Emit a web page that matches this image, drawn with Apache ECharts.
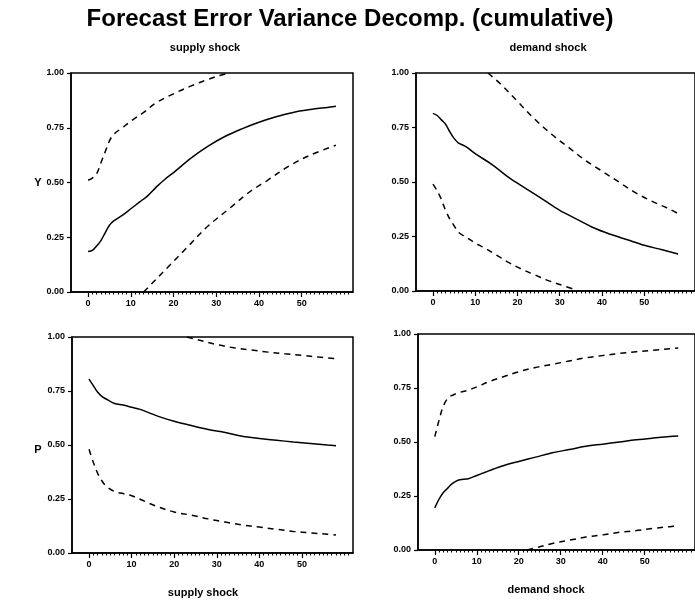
<!DOCTYPE html>
<html>
<head>
<meta charset="utf-8">
<script src="https://cdn.jsdelivr.net/npm/echarts@6/dist/echarts.min.js"></script>
<style>
html,body{margin:0;padding:0;background:#fff;}
#c{width:695px;height:603px;}
</style>
</head>
<body>
<div id="c"></div>
<script>
// ---- data (horizon, share) ----
const titleText = "Forecast Error Variance Decomp. (cumulative)";
const colTitles = ["supply shock", "demand shock"];
const rowTitles = ["Y", "P"];
const xTicks = [0, 10, 20, 30, 40, 50];
const yTicks = [0, 0.25, 0.5, 0.75, 1];

// Y, supply shock
const ySupMidH = [0,1,2,3,4,5,6,8,10,12,14,16,18,20,24,28,32,36,40,44,48,52,56,58];
const ySupMid  = [0.185,0.19,0.21,0.235,0.27,0.305,0.325,0.35,0.38,0.41,0.44,0.48,0.515,0.545,0.61,0.665,0.71,0.745,0.775,0.80,0.82,0.833,0.843,0.848];
const ySupHiH = [0,1,2,3,4,5,6,8,10,13,16,20,24,28,31,33];
const ySupHi  = [0.51,0.52,0.54,0.59,0.64,0.69,0.72,0.75,0.78,0.82,0.865,0.905,0.94,0.97,0.99,1.0];
const ySupLoH = [13,15,19,23,28,33,38,42,47,52,58];
const ySupLo  = [0.0,0.04,0.12,0.2,0.3,0.38,0.46,0.51,0.575,0.625,0.67];

// Y, demand shock
const yDemMidH = [0,1,2,3,4,5,6,8,10,14,18,22,26,30,34,38,42,46,50,54,58];
const yDemMid  = [0.815,0.805,0.785,0.765,0.73,0.70,0.68,0.66,0.63,0.58,0.52,0.47,0.42,0.37,0.33,0.29,0.26,0.235,0.21,0.19,0.17];
const yDemHiH = [13,16,20,24,28,32,36,40,44,48,52,56,58];
const yDemHi  = [1.0,0.95,0.87,0.79,0.72,0.66,0.60,0.55,0.50,0.45,0.41,0.375,0.355];
const yDemLoH = [0,1,2,3,4,5,6,8,10,12,15,18,21,24,27,30,33];
const yDemLo  = [0.49,0.46,0.42,0.37,0.33,0.30,0.27,0.245,0.22,0.20,0.165,0.13,0.10,0.075,0.05,0.03,0.01];

// P, supply shock
const pSupMidH = [0,1,2,3,4,6,8,10,12,14,17,20,24,28,32,36,40,44,48,52,56,58];
const pSupMid  = [0.805,0.775,0.745,0.725,0.713,0.692,0.685,0.675,0.665,0.65,0.628,0.61,0.59,0.572,0.558,0.54,0.53,0.522,0.514,0.507,0.50,0.497];
const pSupHiH = [23,26,30,34,38,42,46,50,54,58];
const pSupHi  = [1.0,0.985,0.965,0.95,0.94,0.93,0.922,0.915,0.907,0.90];
const pSupLoH = [0,1,2,3,4,6,8,10,13,16,20,24,28,32,36,40,44,48,52,56,58];
const pSupLo  = [0.48,0.42,0.37,0.335,0.31,0.285,0.275,0.265,0.24,0.215,0.19,0.175,0.158,0.143,0.13,0.12,0.11,0.10,0.093,0.087,0.083];

// P, demand shock
const pDemMidH = [0,1,2,3,4,5,6,8,10,12,14,17,20,24,28,32,36,40,44,48,52,56,58];
const pDemMid  = [0.195,0.235,0.265,0.285,0.305,0.318,0.325,0.33,0.345,0.36,0.375,0.395,0.41,0.43,0.45,0.465,0.48,0.49,0.50,0.51,0.518,0.525,0.528];
const pDemHiH = [0,1,2,3,4,6,8,10,13,16,20,24,28,32,36,40,44,48,52,56,58];
const pDemHi  = [0.525,0.60,0.665,0.70,0.715,0.73,0.74,0.755,0.78,0.80,0.825,0.845,0.86,0.875,0.89,0.90,0.91,0.918,0.925,0.932,0.935];
const pDemLoH = [22,25,28,32,36,40,44,48,52,56,58];
const pDemLo  = [0.0,0.015,0.03,0.045,0.06,0.07,0.082,0.09,0.10,0.108,0.112];

// ---- layout ----
const grids = [
  {left:71, top:73, width:282, height:219},
  {left:416, top:73, width:282, height:218},
  {left:72, top:337, width:281, height:216},
  {left:418, top:334, width:281, height:216}
];
const panels = [
  [[ySupMidH,ySupMid],[ySupHiH,ySupHi],[ySupLoH,ySupLo]],
  [[yDemMidH,yDemMid],[yDemHiH,yDemHi],[yDemLoH,yDemLo]],
  [[pSupMidH,pSupMid],[pSupHiH,pSupHi],[pSupLoH,pSupLo]],
  [[pDemMidH,pDemMid],[pDemHiH,pDemHi],[pDemLoH,pDemLo]]
];
const minorTicks = [];
for (let i = 0; i <= 61; i++) minorTicks.push(i);

const FONT = 'Liberation Sans, Arial, sans-serif';
const pair = (h, v) => h.map((x, i) => [x, v[i]]);

const option = {
  backgroundColor: '#fff',
  animation: false,
  grid: grids.map(g => Object.assign({show:true, borderColor:'#000', borderWidth:1.5, backgroundColor:'transparent'}, g)),
  xAxis: [],
  yAxis: [],
  series: [],
  graphic: []
};

grids.forEach((g, gi) => {
  // main x axis
  option.xAxis.push({
    type:'value', gridIndex:gi, min:-4, max:62, position:'bottom',
    axisLine:{show:true, onZero:false, lineStyle:{color:'#000', width:1.5}},
    axisTick:{show:true, customValues:xTicks, length:5, lineStyle:{color:'#000', width:1.2}},
    axisLabel:{show:true, customValues:xTicks, margin:7, color:'#000', fontFamily:FONT, fontWeight:'bold', fontSize:9},
    splitLine:{show:false}
  });
  // minor ticks axis
  option.xAxis.push({
    type:'value', gridIndex:gi, min:-4, max:62, position:'bottom', offset:0,
    axisLine:{show:false, onZero:false},
    axisTick:{show:true, customValues:minorTicks, length:2.5, lineStyle:{color:'#000', width:1}},
    axisLabel:{show:false},
    splitLine:{show:false}
  });
  option.yAxis.push({
    type:'value', gridIndex:gi, min:0, max:1, interval:0.25,
    axisLine:{show:true, onZero:false, lineStyle:{color:'#000', width:1.5}},
    axisTick:{show:true, length:4, lineStyle:{color:'#000', width:1.2}},
    axisLabel:{show:true, margin:7, color:'#000', fontFamily:FONT, fontWeight:'bold', fontSize:9,
      formatter: v => v.toFixed(2)},
    splitLine:{show:false}
  });
  panels[gi].forEach((s, si) => {
    option.series.push({
      type:'line', xAxisIndex:gi*2, yAxisIndex:gi,
      data: pair(s[0], s[1]),
      showSymbol:false, symbol:'none', smooth:0.35, clip:true,
      lineStyle:{color:'#000', width:1.5, type: si === 0 ? 'solid' : [6,5]}
    });
  });
});

const txt = (x, y, text, size) => ({
  type:'text', x:x, y:y,
  style:{text:text, fill:'#000', font:'bold ' + size + 'px ' + FONT, textAlign:'center', textVerticalAlign:'middle'}
});
option.graphic = [
  txt(350, 19, titleText, 24),
  txt(205, 48, colTitles[0], 11),
  txt(548, 48, colTitles[1], 11),
  txt(203, 593, colTitles[0], 11),
  txt(546, 590, colTitles[1], 11),
  txt(38, 183, rowTitles[0], 11),
  txt(38, 450, rowTitles[1], 11)
];

const chart = echarts.init(document.getElementById('c'), null, {renderer:'canvas'});
chart.setOption(option);
</script>
</body>
</html>
